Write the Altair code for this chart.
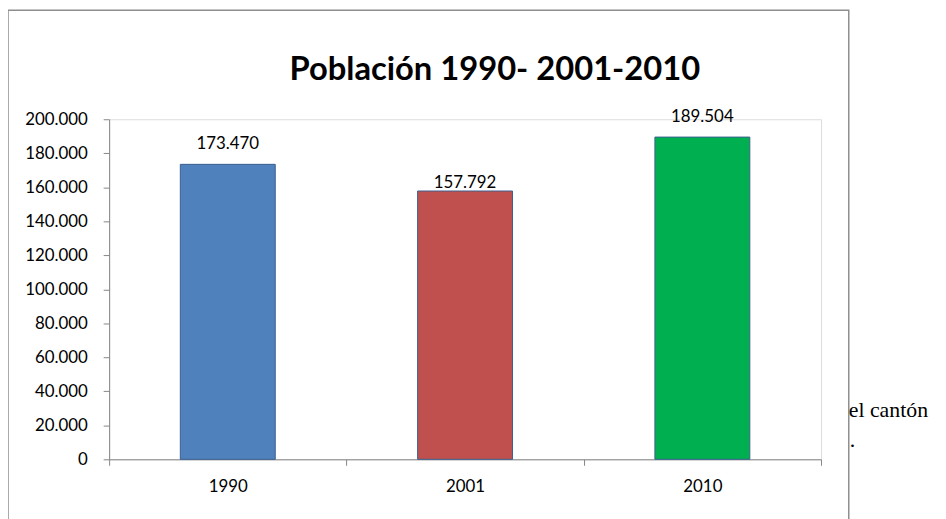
import altair as alt
import pandas as pd

years = ["1990", "2001", "2010"]
population = [173470, 157792, 189504]
bar_colors = ["#4f81bd", "#c0504d", "#00b050"]
title_text = "Población 1990- 2001-2010"
side_line_1 = "el cantón"
side_line_2 = "."

df = pd.DataFrame({"year": years, "pop": population})

W, H = 718, 343
FONT = "Lato"

x_enc = alt.X(
    "year:N",
    sort=years,
    scale=alt.Scale(paddingInner=0, paddingOuter=0),
    axis=alt.Axis(
        title=None, labelAngle=0, tickBand="extent", tickSize=6,
        labelPadding=13, labelFontSize=17, labelFont=FONT, labelColor="#000000",
        domainColor="#868686", tickColor="#868686",
    ),
)
y_enc = alt.Y(
    "pop:Q",
    scale=alt.Scale(domain=[0, 200000], nice=False),
    axis=alt.Axis(
        title=None, values=list(range(0, 200001, 20000)), grid=False,
        tickSize=6, labelPadding=16, labelFontSize=17, labelFont=FONT,
        labelColor="#000000", domainColor="#868686", tickColor="#868686",
        labelExpr="replace(format(datum.value, ','), ',', '.')",
    ),
)

base = alt.Chart(df)

bars = base.mark_bar(
    width=alt.RelativeBandSize(0.4), stroke="#3a5f8f", strokeWidth=1
).encode(
    x=x_enc,
    y=y_enc,
    color=alt.Color("year:N", scale=alt.Scale(domain=years, range=bar_colors), legend=None),
)

lab = base.transform_calculate(
    lbl="replace(format(datum.pop, ','), ',', '.')"
)
labels_main = lab.transform_filter("datum.year != '2001'").mark_text(
    font=FONT, fontSize=17, color="#000000", baseline="middle", dy=-20
).encode(x=x_enc, y=y_enc, text="lbl:N")
labels_2001 = lab.transform_filter("datum.year == '2001'").mark_text(
    font=FONT, fontSize=17, color="#000000", baseline="middle", dy=-8
).encode(x=x_enc, y=y_enc, text="lbl:N")

title = alt.Chart(pd.DataFrame({"t": [title_text]})).mark_text(
    font=FONT, fontSize=33, fontWeight="bold", color="#000000",
    align="center", baseline="alphabetic"
).encode(x=alt.value(389), y=alt.value(-40), text="t:N")

border = alt.Chart(pd.DataFrame({"a": [0]})).mark_rect(
    fill=None, stroke="#8e8e8e", strokeWidth=1.5, clip=False
).encode(x=alt.value(-102), x2=alt.value(746), y=alt.value(-110), y2=alt.value(420))

side1 = alt.Chart(pd.DataFrame({"t": [side_line_1]})).mark_text(
    font="Liberation Serif", fontSize=22, color="#000000",
    align="left", baseline="alphabetic"
).encode(x=alt.value(746), y=alt.value(300), text="t:N")
side2 = alt.Chart(pd.DataFrame({"t": [side_line_2]})).mark_text(
    font="Liberation Serif", fontSize=22, color="#000000",
    align="left", baseline="alphabetic"
).encode(x=alt.value(747), y=alt.value(331), text="t:N")

chart = alt.layer(border, bars, labels_main, labels_2001, title, side1, side2).properties(
    width=W, height=H,
    autosize=alt.AutoSizeParams(type="none"),
    padding={"left": 102, "top": 110, "right": 118, "bottom": 58},
).configure_view(
    fill="#e6e6e6", stroke=None
).configure(background="#ffffff")

chart.save("out.html", embed_options={"renderer": "svg", "actions": False})
